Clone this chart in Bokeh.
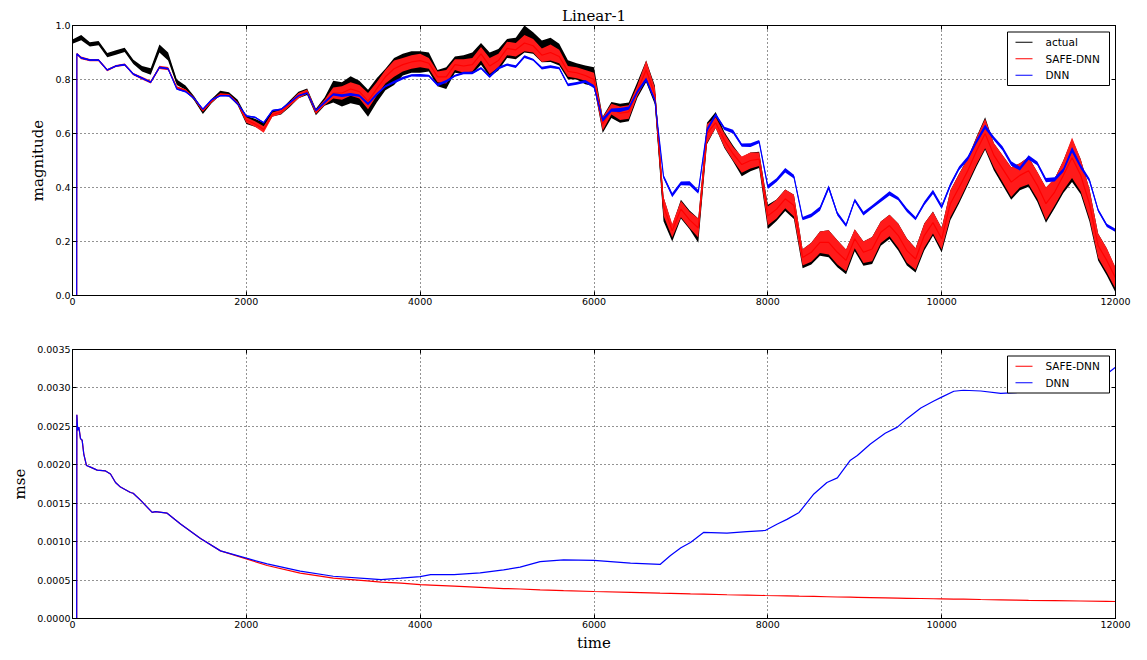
import numpy as np
from bokeh.plotting import figure
from bokeh.layouts import column
from bokeh.models import (FixedTicker, PrintfTickFormatter, BoxAnnotation, Label,
                          LinearAxis, Title)
from bokeh.embed import file_html
from bokeh.resources import INLINE

# ---------------- data ----------------
time_grid = list(range(0, 12001, 100))
pred_lead_t = [0, 48, 50]          # predictions are zero until ~t=50
pred_lead_v = [0.0, 0.0]

actual = [
    0.94, 0.955, 0.93, 0.935, 0.89, 0.90, 0.91, 0.865, 0.84, 0.83,
    0.915, 0.885, 0.79, 0.77, 0.73, 0.68, 0.72, 0.75, 0.745, 0.715,
    0.65, 0.64, 0.625, 0.675, 0.68, 0.71, 0.743, 0.755, 0.68, 0.718,
    0.755, 0.745, 0.762, 0.75, 0.712, 0.76, 0.80, 0.83, 0.855, 0.865,
    0.865, 0.865, 0.805, 0.805, 0.855, 0.855, 0.86, 0.895, 0.855, 0.873,
    0.915, 0.915, 0.95, 0.935, 0.904, 0.91, 0.892, 0.836, 0.83, 0.817,
    0.81, 0.632, 0.687, 0.675, 0.68, 0.762, 0.83, 0.743, 0.32, 0.23,
    0.32, 0.28, 0.24, 0.60, 0.65, 0.576, 0.526, 0.477, 0.495, 0.502,
    0.291, 0.316, 0.353, 0.328, 0.136, 0.155, 0.192, 0.192, 0.155, 0.124,
    0.204, 0.155, 0.167, 0.229, 0.254, 0.217, 0.161, 0.13, 0.217, 0.266,
    0.204, 0.334, 0.396, 0.458, 0.532, 0.60, 0.514, 0.464, 0.415, 0.44,
    0.458, 0.402, 0.334, 0.378, 0.44, 0.50, 0.44, 0.334, 0.18, 0.124,
    0.056]
actual_spread = [
    0.008, 0.01, 0.008, 0.008, 0.008, 0.008, 0.008, 0.008, 0.01, 0.012,
    0.015, 0.015, 0.01, 0.008, 0.008, 0.008, 0.008, 0.008, 0.008, 0.01,
    0.015, 0.015, 0.015, 0.012, 0.01, 0.012, 0.012, 0.012, 0.012, 0.015,
    0.04, 0.045, 0.05, 0.045, 0.05, 0.045, 0.04, 0.05, 0.04, 0.04,
    0.04, 0.035, 0.03, 0.04, 0.03, 0.035, 0.04, 0.04, 0.045, 0.04,
    0.035, 0.04, 0.05, 0.04, 0.04, 0.045, 0.04, 0.035, 0.03, 0.035,
    0.035, 0.03, 0.03, 0.035, 0.035, 0.03, 0.04, 0.035, 0.045, 0.03,
    0.035, 0.035, 0.045, 0.04, 0.03, 0.03, 0.03, 0.035, 0.035, 0.03,
    0.045, 0.04, 0.04, 0.045, 0.035, 0.04, 0.045, 0.05, 0.05, 0.045,
    0.04, 0.045, 0.05, 0.045, 0.045, 0.05, 0.05, 0.045, 0.05, 0.045,
    0.045, 0.055, 0.055, 0.05, 0.055, 0.06, 0.05, 0.055, 0.06, 0.05,
    0.055, 0.055, 0.065, 0.055, 0.06, 0.08, 0.065, 0.06, 0.05, 0.05,
    0.045]

safe_dnn = [
    0.895, 0.88, 0.872, 0.872, 0.835, 0.85, 0.855, 0.82, 0.805, 0.79,
    0.845, 0.84, 0.77, 0.76, 0.73, 0.685, 0.72, 0.745, 0.742, 0.712,
    0.65, 0.635, 0.615, 0.67, 0.68, 0.71, 0.74, 0.755, 0.68, 0.715,
    0.75, 0.75, 0.765, 0.755, 0.72, 0.765, 0.81, 0.84, 0.855, 0.865,
    0.87, 0.86, 0.81, 0.81, 0.855, 0.85, 0.855, 0.895, 0.85, 0.87,
    0.915, 0.91, 0.935, 0.925, 0.89, 0.90, 0.885, 0.83, 0.825, 0.815,
    0.80, 0.635, 0.69, 0.675, 0.68, 0.76, 0.835, 0.745, 0.33, 0.24,
    0.32, 0.28, 0.25, 0.60, 0.64, 0.575, 0.525, 0.485, 0.50, 0.505,
    0.295, 0.32, 0.358, 0.333, 0.141, 0.16, 0.197, 0.197, 0.16, 0.13,
    0.21, 0.16, 0.172, 0.234, 0.259, 0.222, 0.166, 0.135, 0.222, 0.27,
    0.21, 0.34, 0.40, 0.462, 0.535, 0.60, 0.52, 0.47, 0.42, 0.445,
    0.462, 0.408, 0.34, 0.383, 0.445, 0.51, 0.445, 0.34, 0.185, 0.13,
    0.065]
safe_spread = [
    0.004, 0.005, 0.004, 0.004, 0.004, 0.004, 0.004, 0.004, 0.005, 0.005,
    0.006, 0.006, 0.005, 0.004, 0.004, 0.004, 0.005, 0.004, 0.004, 0.005,
    0.01, 0.01, 0.012, 0.008, 0.008, 0.008, 0.01, 0.008, 0.008, 0.01,
    0.02, 0.025, 0.025, 0.025, 0.03, 0.025, 0.025, 0.03, 0.025, 0.025,
    0.025, 0.02, 0.02, 0.025, 0.02, 0.025, 0.025, 0.025, 0.03, 0.025,
    0.025, 0.025, 0.03, 0.025, 0.025, 0.03, 0.025, 0.02, 0.02, 0.02,
    0.025, 0.025, 0.02, 0.025, 0.025, 0.02, 0.035, 0.025, 0.035, 0.025,
    0.03, 0.03, 0.035, 0.035, 0.02, 0.025, 0.025, 0.03, 0.03, 0.025,
    0.035, 0.035, 0.035, 0.04, 0.03, 0.035, 0.04, 0.045, 0.045, 0.04,
    0.035, 0.04, 0.045, 0.04, 0.04, 0.045, 0.045, 0.04, 0.045, 0.04,
    0.04, 0.05, 0.05, 0.045, 0.05, 0.055, 0.045, 0.05, 0.055, 0.045,
    0.05, 0.05, 0.06, 0.05, 0.055, 0.075, 0.06, 0.055, 0.045, 0.045,
    0.04]

dnn = [
    0.895, 0.88, 0.872, 0.872, 0.835, 0.85, 0.855, 0.82, 0.805, 0.79,
    0.845, 0.84, 0.765, 0.755, 0.73, 0.69, 0.725, 0.74, 0.74, 0.71,
    0.665, 0.66, 0.64, 0.685, 0.69, 0.715, 0.74, 0.75, 0.685, 0.715,
    0.745, 0.74, 0.745, 0.74, 0.71, 0.745, 0.775, 0.79, 0.805, 0.815,
    0.815, 0.814, 0.78, 0.793, 0.814, 0.824, 0.824, 0.842, 0.811, 0.842,
    0.855, 0.848, 0.885, 0.873, 0.842, 0.848, 0.842, 0.78, 0.786, 0.793,
    0.774, 0.65, 0.687, 0.687, 0.694, 0.755, 0.80, 0.724, 0.44, 0.372,
    0.415, 0.415, 0.384, 0.613, 0.669, 0.619, 0.607, 0.557, 0.557, 0.57,
    0.402, 0.427, 0.464, 0.44, 0.285, 0.297, 0.322, 0.40, 0.303, 0.26,
    0.353, 0.303, 0.328, 0.353, 0.378, 0.359, 0.316, 0.285, 0.341, 0.384,
    0.328, 0.409, 0.471, 0.508, 0.57, 0.625, 0.582, 0.545, 0.489, 0.47,
    0.511, 0.489, 0.427, 0.43, 0.464, 0.54, 0.477, 0.427, 0.316, 0.26,
    0.241]
dnn_spread = [
    0.003, 0.003, 0.003, 0.003, 0.003, 0.003, 0.003, 0.003, 0.003, 0.003,
    0.003, 0.003, 0.003, 0.003, 0.003, 0.003, 0.003, 0.003, 0.003, 0.003,
    0.003, 0.003, 0.003, 0.003, 0.003, 0.003, 0.003, 0.003, 0.003, 0.004,
    0.004, 0.005, 0.005, 0.004, 0.005, 0.005, 0.004, 0.005, 0.005, 0.004,
    0.005, 0.004, 0.005, 0.005, 0.004, 0.005, 0.005, 0.004, 0.005, 0.005,
    0.004, 0.005, 0.005, 0.004, 0.005, 0.005, 0.004, 0.005, 0.005, 0.005,
    0.006, 0.007, 0.006, 0.007, 0.006, 0.006, 0.007, 0.006, 0.007, 0.008,
    0.007, 0.008, 0.007, 0.007, 0.006, 0.006, 0.007, 0.006, 0.007, 0.006,
    0.008, 0.007, 0.008, 0.007, 0.006, 0.007, 0.008, 0.008, 0.007, 0.006,
    0.006, 0.007, 0.006, 0.007, 0.008, 0.006, 0.007, 0.006, 0.007, 0.008,
    0.008, 0.008, 0.007, 0.008, 0.008, 0.008, 0.007, 0.008, 0.008, 0.007,
    0.008, 0.007, 0.008, 0.008, 0.007, 0.01, 0.008, 0.007, 0.006, 0.006,
    0.006]

mse_t = [0, 48, 50, 60, 73, 92, 111, 130, 161, 207, 284, 380, 437, 495, 552,
         667, 698, 782, 917, 955, 1089, 1243, 1473, 1703, 2000, 2240, 2620,
         3000, 3390, 3550, 3780, 4000, 4120, 4390, 4690, 4960, 5150, 5380,
         5650, 6000, 6420, 6760, 6880, 7000, 7110, 7260, 7530, 7760, 7970,
         8110, 8220, 8360, 8530, 8680, 8800, 8950, 9030, 9180, 9350, 9490,
         9600, 9760, 9910, 10000, 10140, 10250, 10450, 10680, 10850, 11000,
         11300, 11600, 11900, 12000]
mse_dnn = [0, 0, 0.00265, 0.00245, 0.00249, 0.00234, 0.00232, 0.00214, 0.00199,
           0.00197, 0.00193, 0.00192, 0.00188, 0.00177, 0.00171, 0.00164,
           0.00163, 0.00154, 0.00138, 0.00139, 0.00137, 0.00123, 0.00104,
           0.00088, 0.000785, 0.00071, 0.000616, 0.00055, 0.00052, 0.000505,
           0.000525, 0.000546, 0.00057, 0.00057, 0.000594, 0.000633, 0.000668,
           0.00074, 0.000763, 0.000755, 0.00072, 0.000703, 0.00082, 0.00092,
           0.00099, 0.00112, 0.00111, 0.00113, 0.001145, 0.00123, 0.00129,
           0.00138, 0.00162, 0.00177, 0.00183, 0.00206, 0.00212, 0.00227,
           0.00241, 0.00249, 0.0026, 0.00274, 0.00283, 0.00288, 0.002957,
           0.00297, 0.00296, 0.00293, 0.00294, 0.00295, 0.00296, 0.00305,
           0.00318, 0.00327]
mse_safe = [0, 0, 0.00265, 0.00245, 0.00249, 0.00234, 0.00232, 0.00214, 0.00199,
            0.00197, 0.00193, 0.00192, 0.00188, 0.00177, 0.00171, 0.00164,
            0.00163, 0.00154, 0.00138, 0.00139, 0.00137, 0.00123, 0.00104,
            0.00088, 0.000775, 0.00069, 0.00059, 0.000525, 0.00049, 0.000473,
            0.00046, 0.000442, 0.000435, 0.00042, 0.000405, 0.00039, 0.000384,
            0.000372, 0.000362, 0.000351, 0.00034, 0.000329, 0.000327, 0.000324,
            0.00032, 0.000316, 0.000309, 0.000304, 0.000299, 0.000296, 0.000294,
            0.00029, 0.000287, 0.000283, 0.00028, 0.000277, 0.000275, 0.000272,
            0.000268, 0.000265, 0.000263, 0.00026, 0.000257, 0.000256, 0.000253,
            0.000251, 0.000247, 0.000243, 0.00024, 0.000237, 0.000232, 0.000228,
            0.000223, 0.000221]

x_ticks = [0, 2000, 4000, 6000, 8000, 10000, 12000]
mag_ticks = [0.0, 0.2, 0.4, 0.6, 0.8, 1.0]
mse_ticks = [0.0, 0.0005, 0.0010, 0.0015, 0.0020, 0.0025, 0.0030, 0.0035]

series_colors = {"actual": "#000000", "SAFE-DNN": "#ff0000", "DNN": "#0000ff"}

# ---------------- helpers ----------------
t_act = np.array(time_grid, dtype=float)
t_pred = np.array(pred_lead_t + time_grid[1:], dtype=float)


def pred_arr(vals):
    return np.array(pred_lead_v + list(vals), dtype=float)


TICK_FONT = "DejaVu Sans"
LABEL_FONT = "DejaVu Serif"
FRAME_W = 1043


def tick_only_axis(ticks):
    ax = LinearAxis(ticker=FixedTicker(ticks=ticks))
    ax.major_tick_in = 4
    ax.major_tick_out = 0
    ax.minor_tick_line_color = None
    ax.axis_line_color = "black"
    ax.major_label_text_font_size = "0px"
    ax.major_label_text_alpha = 0
    ax.major_label_standoff = 0
    return ax


def style(p, xt, yt, yfmt):
    p.xaxis.ticker = FixedTicker(ticks=xt)
    p.yaxis.ticker = FixedTicker(ticks=yt)
    p.xaxis.formatter = PrintfTickFormatter(format="%d")
    p.yaxis.formatter = PrintfTickFormatter(format=yfmt)
    for ax in p.axis:
        ax.major_tick_in = 4
        ax.major_tick_out = 0
        ax.minor_tick_line_color = None
        ax.axis_line_color = "black"
        ax.major_tick_line_color = "black"
        ax.major_label_text_font = TICK_FONT
        ax.major_label_text_font_size = "9.5px"
        ax.major_label_text_color = "black"
        ax.major_label_standoff = 2
        ax.axis_label_text_font = LABEL_FONT
        ax.axis_label_text_font_size = "15px"
        ax.axis_label_text_font_style = "normal"
        ax.axis_label_text_color = "black"
        ax.axis_label_standoff = 5
    p.grid.grid_line_color = "black"
    p.grid.grid_line_dash = "1 3"
    p.grid.grid_line_alpha = 0.85
    p.grid.grid_line_width = 1
    p.outline_line_color = "black"
    p.outline_line_alpha = 1
    p.outline_line_width = 1
    p.background_fill_color = "white"
    p.border_fill_color = "white"
    p.add_layout(tick_only_axis(yt), "right")
    p.add_layout(tick_only_axis(xt), "above")


def legend(p, names, frame_h):
    """Legend box in the upper-right corner of the frame (screen units,
    measured from the frame's left/bottom edges)."""
    row_h = 16.5
    top = frame_h - 6.5
    right = FRAME_W - 6
    left = right - 102
    bottom = top - (len(names) * row_h + 4)
    p.add_layout(BoxAnnotation(left=left, right=right, top=top, bottom=bottom,
                               left_units="screen", right_units="screen",
                               top_units="screen", bottom_units="screen",
                               fill_color="white", fill_alpha=1,
                               line_color="black", line_alpha=1, line_width=1,
                               level="annotation"))
    for k, name in enumerate(names):
        yc = top - 2 - row_h * (k + 0.5)
        p.add_layout(BoxAnnotation(left=left + 8, right=left + 25,
                                   top=yc + 0.6, bottom=yc - 0.6,
                                   left_units="screen", right_units="screen",
                                   top_units="screen", bottom_units="screen",
                                   fill_color=series_colors[name], fill_alpha=1,
                                   line_alpha=0, level="annotation"))
        p.add_layout(Label(x=left + 38, y=yc, x_units="screen", y_units="screen",
                           text=name, text_font=TICK_FONT, text_font_size="10.5px",
                           text_color="black", text_align="left",
                           text_baseline="middle", level="annotation"))


# ---------------- top figure ----------------
p1 = figure(frame_width=FRAME_W, frame_height=270, x_range=(0, 12000), y_range=(0, 1),
            output_backend="svg", toolbar_location=None, title=None,
            min_border_left=72, min_border_right=24, min_border_top=25, min_border_bottom=30)
p1.yaxis.axis_label = "magnitude"
style(p1, x_ticks, mag_ticks, "%.1f")
p1.add_layout(Title(text="Linear-1", align="center", text_font=LABEL_FONT,
                    text_font_size="15px", text_font_style="normal",
                    text_color="black", standoff=2), "above")

a = np.array(actual)
asp = np.array(actual_spread)
s = pred_arr(safe_dnn)
ssp = pred_arr(safe_spread)
d = pred_arr(dnn)
dsp = pred_arr(dnn_spread)

p1.varea(x=t_act, y1=a - asp, y2=a + asp, fill_color="black", fill_alpha=1)
p1.line(t_act, a, line_color=series_colors["actual"], line_width=1.2)
p1.varea(x=t_pred, y1=s - ssp, y2=s + ssp, fill_color="#ff1a1a", fill_alpha=1)
p1.line(t_pred, s, line_color=series_colors["SAFE-DNN"], line_width=1.2)
p1.varea(x=t_pred, y1=d - dsp, y2=d + dsp, fill_color="#0000ff", fill_alpha=1)
p1.line(t_pred, d, line_color=series_colors["DNN"], line_width=1.2)
legend(p1, ["actual", "SAFE-DNN", "DNN"], 270)

# ---------------- bottom figure ----------------
p2 = figure(frame_width=FRAME_W, frame_height=269, x_range=(0, 12000), y_range=(0, 0.0035),
            output_backend="svg", toolbar_location=None, title=None,
            min_border_left=72, min_border_right=24, min_border_top=24, min_border_bottom=38)
p2.xaxis.axis_label = "time"
p2.yaxis.axis_label = "mse"
style(p2, x_ticks, mse_ticks, "%.4f")
p2.xaxis.axis_label_standoff = 3

p2.line(mse_t, mse_safe, line_color=series_colors["SAFE-DNN"], line_width=1.2)
p2.line(mse_t, mse_dnn, line_color=series_colors["DNN"], line_width=1.2)
legend(p2, ["SAFE-DNN", "DNN"], 269)

layout = column(p1, p2, spacing=0)
open("out.html", "w").write(file_html(layout, INLINE))
